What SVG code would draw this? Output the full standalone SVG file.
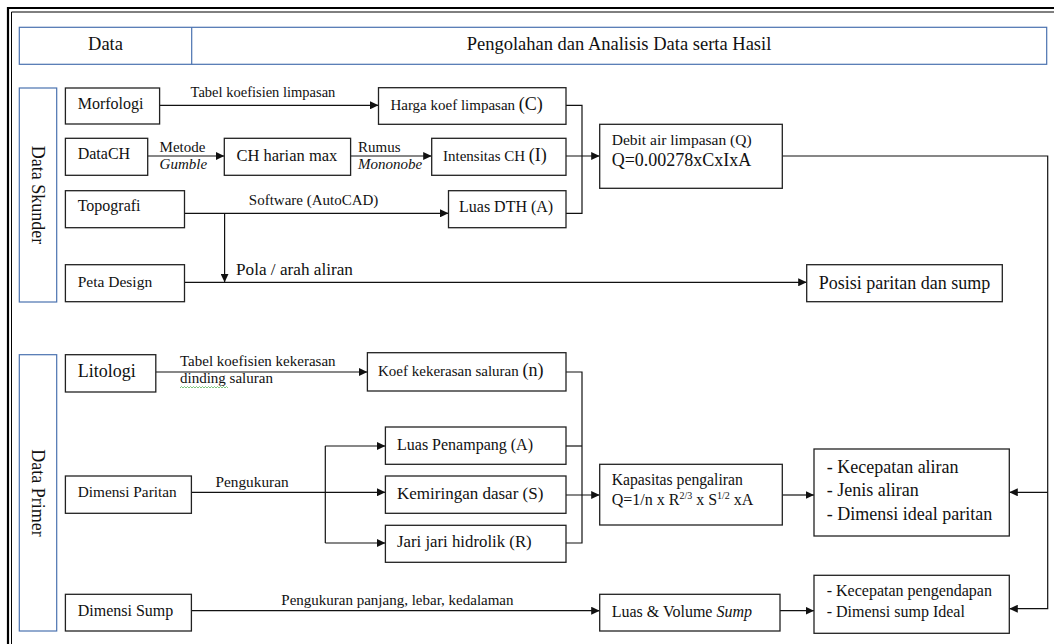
<svg xmlns="http://www.w3.org/2000/svg" width="1054" height="644" viewBox="0 0 1054 644">
<style>
.bg{fill:#ffffff}
.frame{fill:none;stroke:#000}
.blue{fill:#fff;stroke:#4a72b0;stroke-width:1.2}
.box{fill:#fff;stroke:#222;stroke-width:1.3}
.t{font-family:"Liberation Serif","Times New Roman",serif;fill:#111}
.it{font-style:italic}
.c{stroke:#111;stroke-width:1.2;fill:none}
</style>
<defs>
<marker id="arr" markerUnits="userSpaceOnUse" markerWidth="9" markerHeight="8" refX="8.5" refY="4" orient="auto">
<path d="M0,0 L8.5,4 L0,8 z" fill="#111"/>
</marker>
</defs>
<rect class="bg" x="0" y="0" width="1054" height="644"/>
<g id="frame">
<path class="frame" d="M8,644 V8 H1054" stroke-width="2.2"/>
<path class="frame" d="M11.5,644 V12 H1054" stroke-width="1"/>
</g>
<g id="header">
<rect class="blue" x="19.3" y="27.3" width="1027.4" height="37"/>
<line x1="191.7" y1="27.3" x2="191.7" y2="64.3" stroke="#4a72b0" stroke-width="1.2"/>
<text class="t" x="105.5" y="49.5" font-size="18.5" text-anchor="middle">Data</text>
<text class="t" x="619" y="49.5" font-size="18.5" text-anchor="middle">Pengolahan dan Analisis Data serta Hasil</text>
</g>
<g id="data-skunder">
<rect class="blue" x="19.3" y="88" width="37.4" height="214"/>
<text class="t" font-size="18" text-anchor="middle" transform="translate(38,195) rotate(90)" x="0" y="6">Data Skunder</text>
</g>
<g id="data-primer">
<rect class="blue" x="19.3" y="354.7" width="37.4" height="276.3"/>
<text class="t" font-size="18" text-anchor="middle" transform="translate(38,493) rotate(90)" x="0" y="6">Data Primer</text>
</g>
<g id="connectors">
<path class="c" d="M159.6,105.3 H378.5" marker-end="url(#arr)"/>
<path class="c" d="M147.7,156 H224.3" marker-end="url(#arr)"/>
<path class="c" d="M350.6,156 H431.7" marker-end="url(#arr)"/>
<path class="c" d="M184.5,213.3 H448.5" marker-end="url(#arr)"/>
<path class="c" d="M224.6,213.3 V282.3" marker-end="url(#arr)"/>
<path class="c" d="M184.5,282.3 H806.7" marker-end="url(#arr)"/>
<path class="c" d="M566,105.3 H582 V213.3 H566"/>
<path class="c" d="M566,156 H599.7" marker-end="url(#arr)"/>
<path class="c" d="M782.3,156 H1047.7 V608.7 H1009.3" marker-end="url(#arr)"/>
<path class="c" d="M1047.7,492.3 H1009.3" marker-end="url(#arr)"/>
<path class="c" d="M155.8,372 H367.4" marker-end="url(#arr)"/>
<path class="c" d="M191.4,492.3 H385.4" marker-end="url(#arr)"/>
<path class="c" d="M325.3,446 V543"/>
<path class="c" d="M325.3,446 H385.4" marker-end="url(#arr)"/>
<path class="c" d="M325.3,543 H385.4" marker-end="url(#arr)"/>
<path class="c" d="M566,372 H582 V543 H566"/>
<path class="c" d="M566,446 H582"/>
<path class="c" d="M566,495 H599.7" marker-end="url(#arr)"/>
<path class="c" d="M782.3,495 H814" marker-end="url(#arr)"/>
<path class="c" d="M191.4,610.7 H599.7" marker-end="url(#arr)"/>
<path class="c" d="M780,610.7 H814" marker-end="url(#arr)"/>
</g>
<g id="connector-labels">
<text class="t" x="190.6" y="97" font-size="14.5">Tabel koefisien limpasan</text>
<text class="t" x="159.6" y="151.5" font-size="15">Metode</text>
<text class="t it" x="159.6" y="169" font-size="15">Gumble</text>
<text class="t" x="358" y="151.5" font-size="15">Rumus</text>
<text class="t it" x="358" y="168.5" font-size="15">Mononobe</text>
<text class="t" x="248.8" y="205" font-size="15">Software (AutoCAD)</text>
<text class="t" x="236" y="275" font-size="17.2">Pola / arah aliran</text>
<text class="t" x="180" y="366" font-size="15">Tabel koefisien kekerasan</text>
<text class="t" x="180" y="383" font-size="15">dinding saluran</text>
<path d="M180,388 l1.5,-1.5 l1.5,1.5 l1.5,-1.5 l1.5,1.5 l1.5,-1.5 l1.5,1.5 l1.5,-1.5 l1.5,1.5 l1.5,-1.5 l1.5,1.5 l1.5,-1.5 l1.5,1.5 l1.5,-1.5 l1.5,1.5 l1.5,-1.5 l1.5,1.5 l1.5,-1.5 l1.5,1.5 l1.5,-1.5 l1.5,1.5 l1.5,-1.5 l1.5,1.5 l1.5,-1.5 l1.5,1.5 l1.5,-1.5 l1.5,1.5 l1.5,-1.5 l1.5,1.5 l1.5,-1.5 l1.5,1.5 l1.5,-1.5 l1.5,1.5" fill="none" stroke="#5fb85f" stroke-width="0.8"/>
<text class="t" x="215.5" y="486.5" font-size="15.3">Pengukuran</text>
<text class="t" x="281.3" y="604.5" font-size="15">Pengukuran panjang, lebar, kedalaman</text>
</g>
<g id="morfologi">
<rect class="box" x="65.4" y="88" width="94.2" height="36"/>
<text class="t" x="77.7" y="109" font-size="16">Morfologi</text>
</g>
<g id="datach">
<rect class="box" x="65.4" y="138.3" width="82.3" height="37"/>
<text class="t" x="77.7" y="159" font-size="16">DataCH</text>
</g>
<g id="topografi">
<rect class="box" x="65.4" y="190.7" width="119.1" height="37"/>
<text class="t" x="77.7" y="211" font-size="16">Topografi</text>
</g>
<g id="peta-design">
<rect class="box" x="65.4" y="264.7" width="119.1" height="37"/>
<text class="t" x="77.7" y="286.5" font-size="15.5">Peta Design</text>
</g>
<g id="harga-koef">
<rect class="box" x="378.5" y="87.7" width="187.5" height="36.6"/>
<text class="t" x="390.4" y="109.5" font-size="15">Harga koef limpasan <tspan font-size="18">(C)</tspan></text>
</g>
<g id="ch-harian">
<rect class="box" x="224.3" y="138.3" width="126.3" height="37"/>
<text class="t" x="236.5" y="160.5" font-size="16.5">CH harian max</text>
</g>
<g id="intensitas">
<rect class="box" x="431.7" y="138.3" width="134.3" height="37"/>
<text class="t" x="443" y="160.5" font-size="15">Intensitas CH <tspan font-size="18">(I)</tspan></text>
</g>
<g id="luas-dth">
<rect class="box" x="448.5" y="190.7" width="117.5" height="37"/>
<text class="t" x="459" y="211.5" font-size="16">Luas DTH (A)</text>
</g>
<g id="debit">
<rect class="box" x="599.7" y="124.3" width="182.6" height="64"/>
<text class="t" x="611.7" y="145" font-size="15.5">Debit air limpasan  (Q)</text>
<text class="t" x="611.7" y="166" font-size="18">Q=0.00278xCxIxA</text>
</g>
<g id="posisi">
<rect class="box" x="806.7" y="264.7" width="195.6" height="37"/>
<text class="t" x="818.7" y="288.5" font-size="18">Posisi paritan dan sump</text>
</g>
<g id="litologi">
<rect class="box" x="65.4" y="354.7" width="90.4" height="37.3"/>
<text class="t" x="77.7" y="377" font-size="18">Litologi</text>
</g>
<g id="koef-kekerasan">
<rect class="box" x="367.4" y="352.7" width="198.6" height="38.3"/>
<text class="t" x="378" y="375.5" font-size="15">Koef kekerasan saluran <tspan font-size="18">(n)</tspan></text>
</g>
<g id="dimensi-paritan">
<rect class="box" x="65.4" y="476" width="126" height="37.3"/>
<text class="t" x="77.7" y="497" font-size="15.3">Dimensi Paritan</text>
</g>
<g id="luas-penampang">
<rect class="box" x="385.4" y="427" width="180.6" height="37.3"/>
<text class="t" x="397" y="449.5" font-size="16">Luas Penampang (A)</text>
</g>
<g id="kemiringan">
<rect class="box" x="385.4" y="476" width="180.6" height="37.3"/>
<text class="t" x="397" y="498.5" font-size="17">Kemiringan dasar (S)</text>
</g>
<g id="jari-jari">
<rect class="box" x="385.4" y="525.3" width="180.6" height="37"/>
<text class="t" x="397" y="547" font-size="16.8">Jari jari hidrolik (R)</text>
</g>
<g id="kapasitas">
<rect class="box" x="599.7" y="464.3" width="182.6" height="60.7"/>
<text class="t" x="611.7" y="485" font-size="15.7">Kapasitas pengaliran</text>
<text class="t" x="611.7" y="505" font-size="16">Q=1/n x R<tspan font-size="10" dy="-6">2/3</tspan><tspan dy="6"> x S</tspan><tspan font-size="10" dy="-6">1/2</tspan><tspan dy="6"> xA</tspan></text>
</g>
<g id="hasil-paritan">
<rect class="box" x="814" y="449" width="195.3" height="87"/>
<text class="t" x="826.7" y="473" font-size="18">- Kecepatan aliran</text>
<text class="t" x="826.7" y="496" font-size="18">- Jenis aliran</text>
<text class="t" x="826.7" y="519.5" font-size="18">- Dimensi ideal paritan</text>
</g>
<g id="dimensi-sump">
<rect class="box" x="65.4" y="594.3" width="126" height="36.7"/>
<text class="t" x="77.7" y="616" font-size="16">Dimensi  Sump</text>
</g>
<g id="luas-volume-sump">
<rect class="box" x="599.7" y="594.3" width="180.3" height="36.7"/>
<text class="t" x="611.7" y="617" font-size="16">Luas &amp; Volume <tspan class="it">Sump</tspan></text>
</g>
<g id="hasil-sump">
<rect class="box" x="814" y="575.3" width="195.3" height="58"/>
<text class="t" x="826.7" y="596" font-size="16">- Kecepatan pengendapan</text>
<text class="t" x="826.7" y="617" font-size="16">- Dimensi  sump Ideal</text>
</g>
</svg>
